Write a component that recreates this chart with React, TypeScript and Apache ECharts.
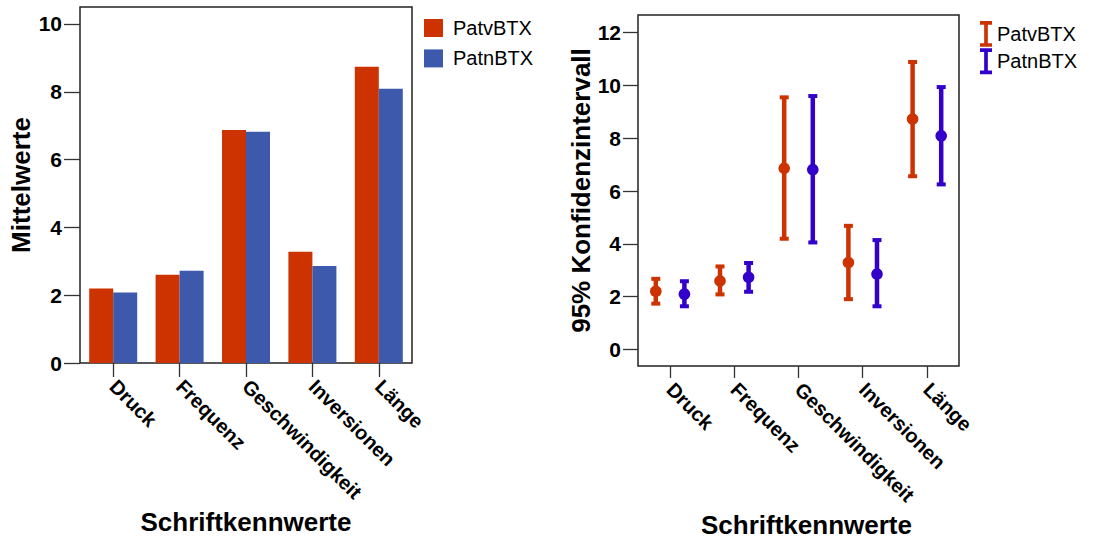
import React, { useEffect, useRef } from "react";
import * as echarts from "echarts";

const categories = ["Druck", "Frequenz", "Geschwindigkeit", "Inversionen", "Länge"];
const seriesNames = ["PatvBTX", "PatnBTX"];

// Left chart: means
const barPatv = [2.2, 2.6, 6.87, 3.28, 8.74];
const barPatn = [2.08, 2.72, 6.82, 2.86, 8.09];

// Right chart: 95% confidence intervals
const meanPatv = [2.2, 2.59, 6.86, 3.29, 8.73];
const lowPatv = [1.73, 2.08, 4.19, 1.9, 6.56];
const highPatv = [2.67, 3.14, 9.55, 4.68, 10.89];
const meanPatn = [2.09, 2.73, 6.81, 2.85, 8.09];
const lowPatn = [1.63, 2.18, 4.05, 1.63, 6.25];
const highPatn = [2.58, 3.27, 9.6, 4.14, 9.94];

const leftTicks = [0, 2, 4, 6, 8, 10];
const rightTicks = [0, 2, 4, 6, 8, 10, 12];

const RED = "#cc3300";
const BLUE_BAR = "#3d59ab";
const BLUE_CI = "#3300cc";
const FONT = "'Liberation Sans', Arial, Helvetica, sans-serif";
const IBEAM = "path://M0,0H13V4H8.5V24H13V28H0V24H4.5V4H0Z";

function ciData(mean: number[], low: number[], high: number[]) {
  return mean.map((m, i) => [i, low[i], high[i], m]);
}

function makeRenderItem(color: string, offset: number) {
  return (params: any, api: any) => {
    const idx = api.value(0);
    const pLo = api.coord([idx, api.value(1)]);
    const pHi = api.coord([idx, api.value(2)]);
    const pM = api.coord([idx, api.value(3)]);
    const cx = pLo[0] + offset;
    return {
      type: "group",
      children: [
        { type: "line", shape: { x1: cx, y1: pHi[1], x2: cx, y2: pLo[1] }, style: { stroke: color, lineWidth: 4.5 } },
        { type: "rect", shape: { x: cx - 4.5, y: pHi[1] - 2, width: 9, height: 4 }, style: { fill: color } },
        { type: "rect", shape: { x: cx - 4.5, y: pLo[1] - 2, width: 9, height: 4 }, style: { fill: color } },
        { type: "circle", shape: { cx, cy: pM[1], r: 5.8 }, style: { fill: color } },
      ],
    };
  };
}

export default function App() {
  const ref = useRef<HTMLDivElement>(null);
  useEffect(() => {
    if (!ref.current) return;
    const chart = echarts.init(ref.current, null, { renderer: "svg" });
    const tickLabel = { color: "#000", fontWeight: "bold", fontFamily: FONT };
    const nameStyle = { color: "#000", fontWeight: "bold", fontSize: 26, fontFamily: FONT };
    const tickLine = { color: "#333", width: 1.3 };
    const option: any = {
      animation: false,
      backgroundColor: "#fff",
      textStyle: { fontFamily: FONT },
      grid: [
        { left: 80, top: 7, width: 332, height: 356, show: true, borderColor: "#222", borderWidth: 1.5, backgroundColor: "transparent", outerBoundsMode: "none", containLabel: false },
        { left: 638, top: 15, width: 321, height: 351, show: true, borderColor: "#222", borderWidth: 1.5, backgroundColor: "transparent", outerBoundsMode: "none", containLabel: false },
      ],
      legend: [
        {
          left: 424, top: 18, orient: "vertical", itemWidth: 19, itemHeight: 18, itemGap: 10.4,
          padding: 0, selectedMode: false,
          textStyle: { fontSize: 20, color: "#000", fontFamily: FONT, padding: [0, 0, 0, 5] },
          data: [
            { name: seriesNames[0], icon: "rect", itemStyle: { color: RED } },
            { name: seriesNames[1], icon: "rect", itemStyle: { color: BLUE_BAR } },
          ],
        },
        {
          left: 980, top: 21, orient: "vertical", itemWidth: 12, itemHeight: 28, itemGap: 1.5,
          padding: 0, selectedMode: false,
          textStyle: { fontSize: 20, color: "#000", fontFamily: FONT },
          data: [
            { name: seriesNames[0], icon: IBEAM, itemStyle: { color: RED } },
            { name: seriesNames[1], icon: IBEAM, itemStyle: { color: BLUE_CI } },
          ],
        },
      ],
      xAxis: [
        {
          type: "category", gridIndex: 0, data: categories,
          axisLine: { show: false, onZero: false },
          axisTick: { show: true, alignWithLabel: true, length: 14, lineStyle: tickLine },
          axisLabel: { ...tickLabel, fontSize: 20, rotate: -45, margin: 20, interval: 0 },
          name: "Schriftkennwerte", nameLocation: "middle", nameGap: 145, nameTextStyle: nameStyle,
        },
        {
          type: "category", gridIndex: 1, data: categories,
          axisLine: { show: false, onZero: false },
          axisTick: { show: true, alignWithLabel: true, length: 12, lineStyle: tickLine },
          axisLabel: { ...tickLabel, fontSize: 20, rotate: -45, margin: 20, interval: 0 },
          name: "Schriftkennwerte", nameLocation: "middle", nameGap: 140,
          nameTextStyle: { ...nameStyle, padding: [0, 0, 0, 16] },
        },
      ],
      yAxis: [
        {
          type: "value", gridIndex: 0, min: 0, max: 10.5,
          axisLine: { show: false }, splitLine: { show: false },
          axisTick: { show: true, length: 16, lineStyle: tickLine, customValues: leftTicks },
          axisLabel: { ...tickLabel, fontSize: 21, margin: 18, customValues: leftTicks },
          name: "Mittelwerte", nameLocation: "middle", nameGap: 46, nameTextStyle: nameStyle,
        },
        {
          type: "value", gridIndex: 1, min: -0.634, max: 12.672,
          axisLine: { show: false }, splitLine: { show: false },
          axisTick: { show: true, length: 15, lineStyle: tickLine, customValues: rightTicks },
          axisLabel: { ...tickLabel, fontSize: 21, margin: 17, customValues: rightTicks },
          name: "95% Konfidenzintervall", nameLocation: "middle", nameGap: 42, nameTextStyle: nameStyle,
        },
      ],
      series: [
        { name: seriesNames[0], type: "bar", xAxisIndex: 0, yAxisIndex: 0, data: barPatv, itemStyle: { color: RED }, barGap: "0%", barCategoryGap: "27.7%" },
        { name: seriesNames[1], type: "bar", xAxisIndex: 0, yAxisIndex: 0, data: barPatn, itemStyle: { color: BLUE_BAR }, barGap: "0%", barCategoryGap: "27.7%" },
        {
          name: seriesNames[0], type: "custom", xAxisIndex: 1, yAxisIndex: 1,
          data: ciData(meanPatv, lowPatv, highPatv), encode: { x: 0, y: [1, 2, 3] },
          itemStyle: { color: RED }, renderItem: makeRenderItem(RED, -14.3),
        },
        {
          name: seriesNames[1], type: "custom", xAxisIndex: 1, yAxisIndex: 1,
          data: ciData(meanPatn, lowPatn, highPatn), encode: { x: 0, y: [1, 2, 3] },
          itemStyle: { color: BLUE_CI }, renderItem: makeRenderItem(BLUE_CI, 14.3),
        },
      ],
    };
    chart.setOption(option);
    return () => chart.dispose();
  }, []);
  return <div ref={ref} style={{ position: "fixed", left: 0, top: 0, width: 1095, height: 540 }} />;
}
